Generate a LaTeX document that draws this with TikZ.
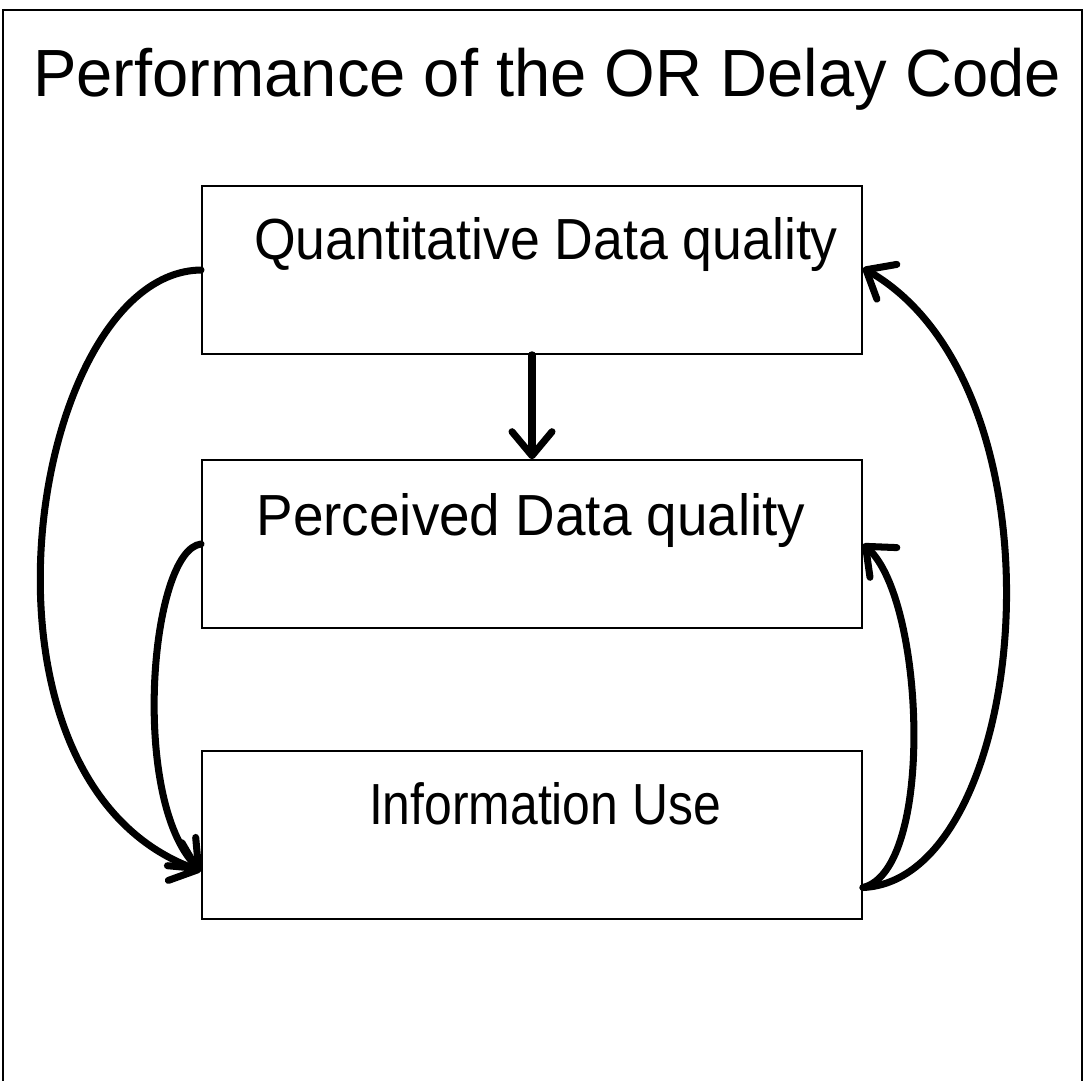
\documentclass[tikz,border=0pt]{standalone}
\usepackage{fontspec}
\setmainfont{Liberation Sans}
\usetikzlibrary{arrows.meta}
\begin{document}
\begin{tikzpicture}[x=0.02cm,y=-0.02cm,
  box/.style={draw,line width=1.2pt,minimum width=13.2cm,minimum height=3.35cm,inner sep=0pt},
  boxtext/.style={anchor=base,font=\fontsize{33}{40}\selectfont,inner sep=0pt},
  titletext/.style={anchor=base,font=\fontsize{38}{46}\selectfont,inner sep=0pt},
  flow/.style={line width=4pt,line cap=round,
    -{Straight Barb[length=4.8mm,width=8mm,line width=4pt,round]}},
  frame/.style={line width=1.2pt}]
\useasboundingbox (0,0) rectangle (1085,1080);
% outer frame, open at the bottom
\draw[frame] (3,1082) -- (3,10) -- (1082,10) -- (1082,1082);
% title
\node[titletext] (title) at (547,96) {\scalebox{0.975}[1]{Performance of the OR Delay Code}};
% the three boxes
\node[box] (q) at (532,270) {};
\node[box] (p) at (532,544) {};
\node[box] (u) at (532,835) {};
\node[boxtext] (qt) at (546,259) {\scalebox{0.924}[1]{Quantitative Data quality}};
\node[boxtext] (pt) at (531,535) {\scalebox{0.946}[1]{Perceived Data quality}};
\node[boxtext] (ut) at (545,824) {\scalebox{0.86}[1]{Information Use}};
% connectors
\draw[flow] (q.south) -- (p.north);
\draw[flow] (q.west) .. controls (30,272) and (-50,780) .. ([yshift=-0.72cm]u.west);
\draw[flow] (p.west) .. controls (150,550) and (130,800) .. ([yshift=-0.72cm]u.west);
\draw[flow] ([yshift=-1.05cm]u.east) .. controls (1030,880) and (1075,390) .. ([yshift=0.04cm]q.east);
\draw[flow] ([yshift=-1.05cm]u.east) .. controls (935,870) and (925,600) .. (p.east);
\end{tikzpicture}
\end{document}
